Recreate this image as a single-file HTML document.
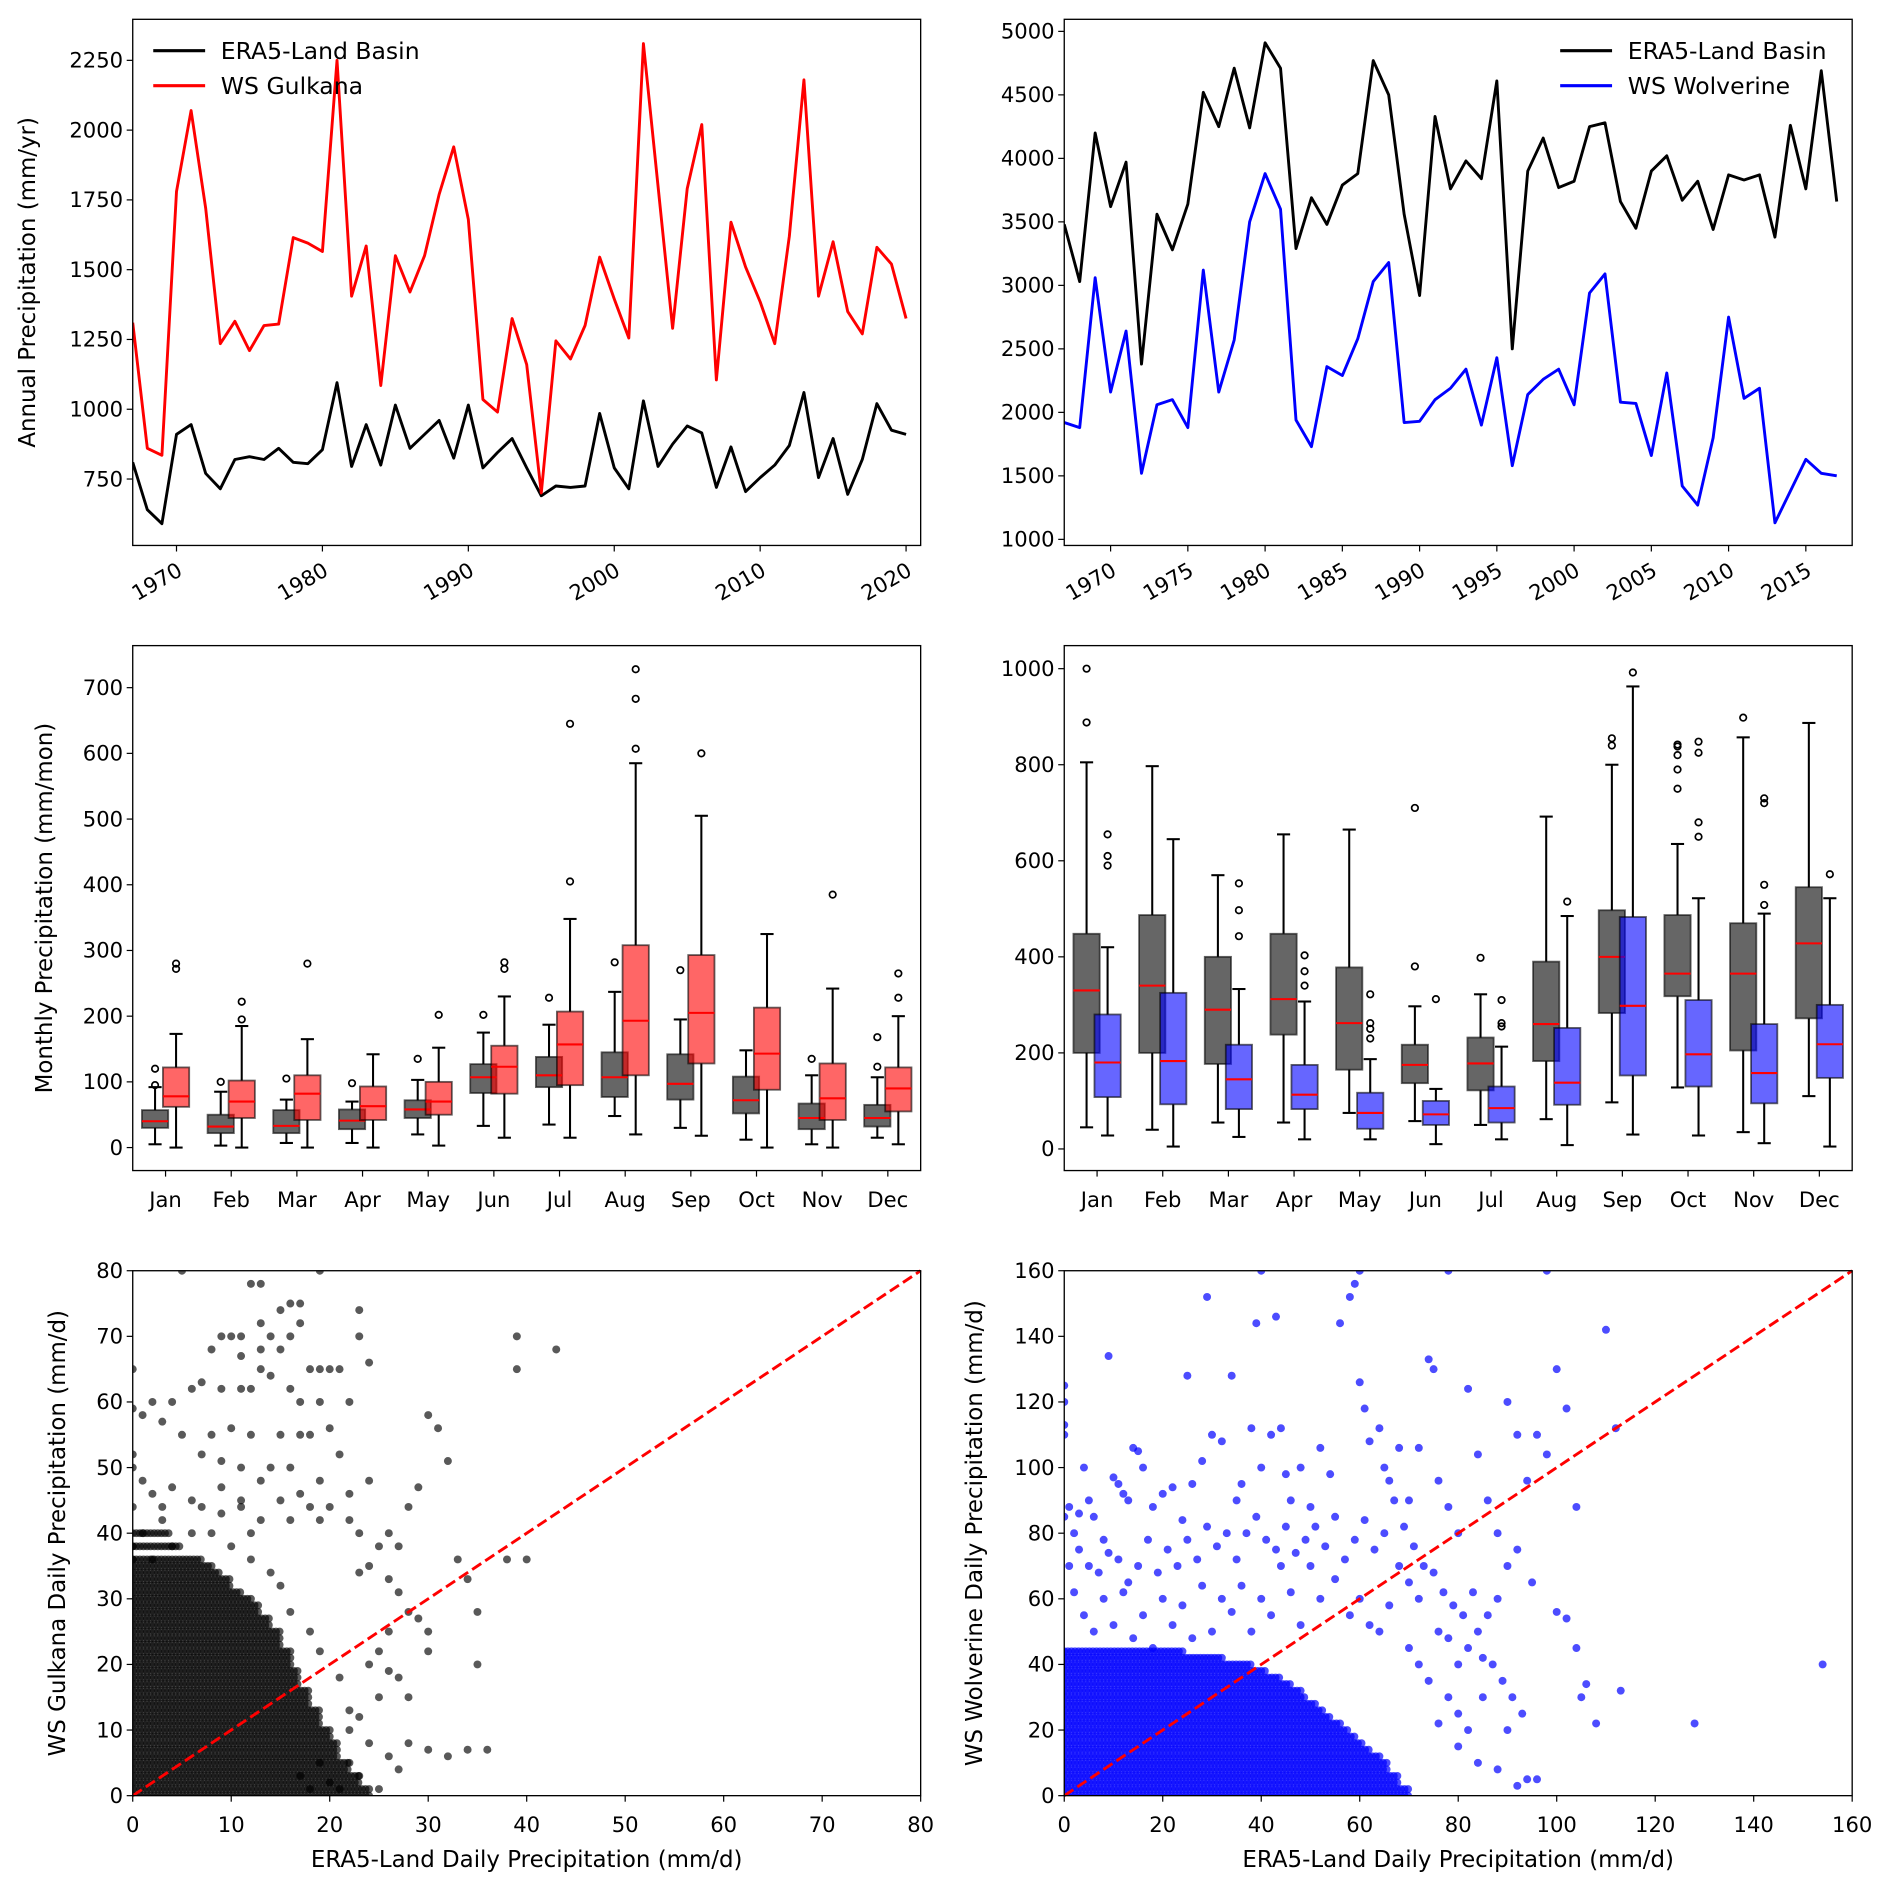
<!DOCTYPE html>
<html><head><meta charset="utf-8"><style>
html,body{margin:0;padding:0;background:#fff;}
svg{display:block;font-family:"DejaVu Sans","Liberation Sans",sans-serif;}
</style></head>
<body>
<svg id="fig" width="1892" height="1891" viewBox="0 0 1568 1567" preserveAspectRatio="none" xmlns="http://www.w3.org/2000/svg">
<rect x="0" y="0" width="1568" height="1567" fill="#fff"/>
</svg>
<script>
// ---------- DATA ----------
const gkYears = [1967,1968,1969,1970,1971,1972,1973,1974,1975,1976,1977,1978,1979,1980,1981,1982,1983,1984,1985,1986,1987,1988,1989,1990,1991,1992,1993,1994,1995,1996,1997,1998,1999,2000,2001,2002,2003,2004,2005,2006,2007,2008,2009,2010,2011,2012,2013,2014,2015,2016,2017,2018,2019,2020];
const gkWS = [1310,860,835,1780,2070,1720,1235,1315,1210,1300,1305,1615,1595,1565,2250,1405,1585,1085,1550,1420,1550,1770,1940,1680,1035,990,1325,1160,700,1245,1180,1300,1545,1395,1255,2310,1800,1290,1790,2020,1105,1670,1510,1385,1235,1620,2180,1405,1600,1350,1270,1580,1520,1325];
const gkERA = [810,640,590,910,945,770,715,820,830,820,860,810,805,855,1095,795,945,800,1015,860,910,960,825,1015,790,845,895,790,690,725,720,725,985,790,715,1030,795,875,940,915,720,865,705,755,800,870,1060,755,895,695,820,1020,925,910];
const wvYears = [1967,1968,1969,1970,1971,1972,1973,1974,1975,1976,1977,1978,1979,1980,1981,1982,1983,1984,1985,1986,1987,1988,1989,1990,1991,1992,1993,1994,1995,1996,1997,1998,1999,2000,2001,2002,2003,2004,2005,2006,2007,2008,2009,2010,2011,2012,2013,2014,2015,2016,2017];
const wvERA = [3480,3030,4200,3620,3970,2380,3560,3280,3640,4520,4250,4710,4240,4910,4710,3290,3690,3480,3790,3880,4770,4500,3560,2920,4330,3760,3980,3840,4610,2500,3900,4160,3770,3820,4250,4280,3660,3450,3900,4020,3670,3820,3440,3870,3830,3870,3380,4260,3760,4690,3660];
const wvWS = [1920,1880,3060,2160,2640,1520,2060,2100,1880,3120,2160,2570,3500,3880,3600,1940,1730,2360,2290,2580,3030,3180,1920,1930,2100,2190,2340,1900,2430,1580,2140,2260,2340,2060,2940,3090,2080,2070,1660,2310,1420,1270,1800,2750,2110,2190,1130,1380,1630,1520,1500];
const months = ['Jan','Feb','Mar','Apr','May','Jun','Jul','Aug','Sep','Oct','Nov','Dec'];
// box stats: [whislo, q1, med, q3, whishi]
const gkBoxERA = [[5,30,40,57,92],[3,22,32,50,85],[7,22,33,57,73],[7,28,41,58,70],[20,45,58,72,103],[33,83,107,127,175],[35,92,110,138,187],[48,77,107,145,237],[30,73,97,142,195],[12,52,72,108,148],[5,28,45,67,110],[15,32,45,65,107]];
const gkOutERA = [[95,120],[100],[105],[98],[135],[202],[228],[282],[270],[],[135],[123,168]];
const gkBoxWS = [[0,62,78,122,173],[0,45,70,102,185],[0,42,82,110,165],[0,42,63,93,142],[3,50,70,100,152],[15,82,123,155,230],[15,95,157,207,348],[20,110,193,308,585],[18,128,205,293,505],[0,88,143,213,325],[0,42,75,128,242],[5,55,90,122,200]];
const gkOutWS = [[272,280],[195,222],[280],[],[202],[272,282],[405,645],[607,683,728],[600],[],[385],[228,265]];
const wvBoxERA = [[45,200,330,448,805],[40,200,340,487,797],[55,177,290,400,570],[55,238,312,448,655],[75,165,262,378,665],[58,137,175,217,297],[50,122,178,232,322],[62,183,260,390,692],[97,283,400,497,800],[128,318,365,487,635],[35,205,365,470,857],[110,272,428,545,887]];
const wvOutERA = [[888,1000],[],[],[],[],[380,710],[398],[],[840,855],[750,790,820,838,842],[898],[]];
const wvBoxWS = [[28,108,180,280,420],[5,93,183,325,645],[25,83,145,217,333],[20,83,113,175,307],[20,42,75,117,187],[10,50,72,100,125],[20,55,85,130,213],[8,92,138,252,485],[30,153,298,483,963],[28,130,197,310,522],[12,95,158,260,490],[5,148,218,300,522]];
const wvOutWS = [[590,610,655],[],[443,497,553],[340,370,403],[230,250,262,322],[312],[255,262,310],[515],[992],[650,680,825,848],[508,550,720,730],[572]];
// scatter: dense core bands (y level, max ERA5 x of solid cloud)
const gkBandY = [0,1,2,3,4,5,6,7,8,9,10,11,12,13,14,15,16,17,18,19,20,21,22,23,24,25,26,27,28,29,30,31,32,33,34,35,36,38,40];
const gkBandX = [24,24,23,23,22,22,21,21,21,20,20,19,19,19,18,18,18,17,17,17,16,16,16,15,15,15,14,14,13,13,12,11,10,10,9,8,7,5,4];
const gkPtsX = [5,13,12,16,17,19,15,13,9,10,11,14,16,8,11,13,15,17,23,23,24,20,19,21,18,13,14,7,6,9,11,12,16,17,19,22,4,2,0,0,1,3,5,8,10,12,15,17,18,20,21,7,9,11,14,16,19,24,22,13,15,17,18,20,9,11,6,4,2,3,0,0,1,13,16,19,22,23,25,26,28,30,31,32,29,27,24,23,26,27,28,29,30,30,26,25,24,26,27,28,25,23,22,24,26,27,22,23,21,25,28,30,32,34,36,35,35,34,33,38,40,39,39,43,18,20,17,19,22,21,19,18,16,15,14,12,10,8,6,4,2,1,3,7,9,12,11,0,0,0];
const gkPtsY = [80,78,78,75,75,80,74,72,70,70,70,70,70,68,67,68,68,72,74,70,66,65,65,65,65,65,64,63,62,62,62,62,62,60,60,60,60,60,65,59,58,57,55,55,56,55,55,55,55,56,52,52,51,50,50,50,48,48,46,48,45,46,44,44,47,45,45,47,46,44,52,50,48,42,42,42,42,40,38,40,44,58,56,51,47,38,35,34,33,31,28,27,25,22,25,22,20,19,18,15,15,12,10,8,6,4,5,3,1,1,8,7,6,7,7,20,28,33,36,36,36,65,70,68,1,2,3,5,13,18,22,25,28,32,34,36,38,40,40,38,36,40,42,44,43,40,44,44,38,36];
const wvBandY = [0,2,4,6,8,10,12,14,16,18,20,22,24,26,28,30,32,34,36,38,40,42,44];
const wvBandX = [70,70,68,68,66,66,64,62,61,59,58,56,54,53,51,49,48,46,44,41,38,32,24];
const wvPtsX = [0,0,0,0,1,0,2,3,4,5,6,8,9,10,11,12,13,14,15,16,18,20,22,24,25,26,28,29,30,32,34,35,36,38,39,40,42,43,44,45,46,48,50,52,54,56,58,59,60,61,62,64,65,66,68,70,72,74,75,76,78,80,82,84,86,88,90,92,94,96,98,100,102,104,110,112,100,102,104,106,105,108,113,128,154,95,92,90,88,86,84,82,80,78,76,80,84,88,92,94,96,90,85,72,70,68,66,64,62,60,58,55,52,50,48,46,44,42,40,38,36,34,32,30,28,26,24,22,20,18,16,14,12,10,8,6,4,2,1,3,5,7,9,11,13,15,17,19,21,23,25,27,29,31,33,35,37,39,41,43,45,47,49,51,53,55,57,59,61,63,65,67,69,71,73,75,77,79,81,83,85,87,89,91,93,70,72,74,76,78,80,82,60,78,98,40];
const wvPtsY = [125,120,113,110,88,85,80,86,100,90,85,78,134,97,95,92,90,106,105,100,88,92,94,84,128,95,102,152,110,108,128,90,95,112,144,100,110,146,112,98,90,100,88,106,98,144,152,156,126,118,108,112,100,96,106,90,106,133,130,96,88,80,124,104,90,80,120,110,96,110,104,130,118,88,142,112,56,54,45,34,30,22,32,22,40,65,75,70,60,55,50,45,40,30,22,15,10,8,3,5,5,20,30,60,65,70,58,50,52,60,55,66,60,70,52,62,70,55,60,50,64,56,60,50,64,48,58,52,60,45,55,48,62,52,60,50,55,62,70,75,70,68,74,72,65,70,78,68,75,70,78,72,82,76,80,72,80,85,78,75,82,74,78,82,76,85,72,78,84,75,80,90,82,76,70,68,62,58,55,62,42,40,35,30,25,45,40,35,50,48,25,20,160,160,160,160];
const NS = 'http://www.w3.org/2000/svg';
const svg = document.getElementById('fig');
const TF = 17.5, LF = 19;
function mk(tag, attrs, parent){
  const e = document.createElementNS(NS, tag);
  for (const k in attrs) e.setAttribute(k, attrs[k]);
  (parent||svg).appendChild(e);
  return e;
}
function scale(d0,d1,r0,r1){return v => r0 + (v-d0)/(d1-d0)*(r1-r0);}
function axesFrame(x0,x1,y0,y1,name){
  const g = mk('g',{});
  
  
  return g;
}
function frame(g,x0,x1,y0,y1){
  const r = mk('rect',{x:x0,y:y0,width:x1-x0,height:y1-y0,fill:'none',stroke:'#000','stroke-width':1.1},g);
  
  
}
function yTicks(g,ys,vals,x0){
  vals.forEach(v=>{
    const y = ys(v);
    mk('line',{x1:x0-5,x2:x0,y1:y,y2:y,stroke:'#000','stroke-width':1},g);
    const t = mk('text',{x:x0-8,y:y+6,'text-anchor':'end','font-size':TF,fill:'#000'},g);
    
    
    t.textContent = v;
  });
}
function xTicks(g,xs,vals,labels,y1,rot){
  vals.forEach((v,i)=>{
    const x = xs(v);
    mk('line',{x1:x,x2:x,y1:y1,y2:y1+5,stroke:'#000','stroke-width':1},g);
    let t;
    if (rot){
      t = mk('text',{x:x+6,y:y1+24,'text-anchor':'end','font-size':TF,transform:`rotate(-30 ${x+6} ${y1+24})`},g);
    } else {
      t = mk('text',{x:x,y:y1+30,'text-anchor':'middle','font-size':TF},g);
    }
    
    
    t.textContent = labels[i];
  });
}
function yLabel(g,x,y,txt,name){
  const t = mk('text',{x:x,y:y,'text-anchor':'middle','font-size':LF,transform:`rotate(-90 ${x} ${y})`},g);
  
  
  t.textContent = txt;
}
function xLabel(g,x,y,txt,name){
  const t = mk('text',{x:x,y:y,'text-anchor':'middle','font-size':LF},g);
  
  
  t.textContent = txt;
}
function series(g,xs,ys,xv,yv,color,name,clipId){
  const d = xv.map((x,i)=>(i?'L':'M')+xs(x).toFixed(2)+','+ys(yv[i]).toFixed(2)).join(' ');
  const p = mk('path',{d:d,fill:'none',stroke:color,'stroke-width':2.4,'stroke-linejoin':'round','clip-path':`url(#${clipId})`},g);
  
  
}
function legend(g,x,y,items){
  items.forEach((it,i)=>{
    const yy = y + i*29;
    mk('line',{x1:x,x2:x+43,y1:yy,y2:yy,stroke:it[1],'stroke-width':2.6},g);
    const t = mk('text',{x:x+56,y:yy+7,'font-size':19.5},g);
    
    
    t.textContent = it[0];
  });
}
function clip(id,x0,x1,y0,y1){
  const defs = mk('defs',{});
  const cp = mk('clipPath',{id:id},defs);
  mk('rect',{x:x0,y:y0,width:x1-x0,height:y1-y0},cp);
}
// ---------- PANEL 1 ----------
(function(){
  const x0=110,x1=763,y0=16,y1=452;
  const xs=scale(1967,2021,x0,x1), ys=scale(512,2397,y1,y0);
  clip('c1',x0,x1,y0,y1);
  const g=axesFrame(x0,x1,y0,y1,'annual-gulkana-chart');
  series(g,xs,ys,gkYears,gkERA,'#000','era5-basin-line','c1');
  series(g,xs,ys,gkYears,gkWS,'#ff0000','ws-gulkana-line','c1');
  frame(g,x0,x1,y0,y1);
  yTicks(g,ys,[750,1000,1250,1500,1750,2000,2250],x0);
  xTicks(g,xs,[1970,1980,1990,2000,2010,2020],['1970','1980','1990','2000','2010','2020'],y1,true);
  yLabel(g,29,(y0+y1)/2,'Annual Precipitation (mm/yr)','y-axis-title');
  legend(g,127,42,[['ERA5-Land Basin','#000'],['WS Gulkana','#ff0000']]);
})();
// ---------- PANEL 2 ----------
(function(){
  const x0=882,x1=1535,y0=16,y1=452;
  const xs=scale(1967,2018,x0,x1), ys=scale(952,5095,y1,y0);
  clip('c2',x0,x1,y0,y1);
  const g=axesFrame(x0,x1,y0,y1,'annual-wolverine-chart');
  series(g,xs,ys,wvYears,wvERA,'#000','era5-basin-line','c2');
  series(g,xs,ys,wvYears,wvWS,'#0000ff','ws-wolverine-line','c2');
  frame(g,x0,x1,y0,y1);
  yTicks(g,ys,[1000,1500,2000,2500,3000,3500,4000,4500,5000],x0);
  xTicks(g,xs,[1970,1975,1980,1985,1990,1995,2000,2005,2010,2015],['1970','1975','1980','1985','1990','1995','2000','2005','2010','2015'],y1,true);
  legend(g,1293,42,[['ERA5-Land Basin','#000'],['WS Wolverine','#0000ff']]);
})();
// ---------- BOX PANELS ----------
function boxPanel(x0,x1,y0,y1,ymin,ymax,bA,oA,bB,oB,fillB,ticks,name,ylab){
  const xs=scale(0.5,12.5,x0,x1), ys=scale(ymin,ymax,y1,y0);
  const g=axesFrame(x0,x1,y0,y1,name);
  const w=0.4;
  function drawBox(i,s,outs,off,fill,bn){
    const c = xs(i+1+off), hw=(xs(w)-xs(0))/2, cw=hw*0.5;
    const bg = mk('g',{},g);
    
    
    mk('line',{x1:c,x2:c,y1:ys(s[0]),y2:ys(s[1]),stroke:'#000','stroke-width':1.7},bg);
    mk('line',{x1:c,x2:c,y1:ys(s[3]),y2:ys(s[4]),stroke:'#000','stroke-width':1.7},bg);
    mk('line',{x1:c-cw,x2:c+cw,y1:ys(s[0]),y2:ys(s[0]),stroke:'#000','stroke-width':1.7},bg);
    mk('line',{x1:c-cw,x2:c+cw,y1:ys(s[4]),y2:ys(s[4]),stroke:'#000','stroke-width':1.7},bg);
    mk('rect',{x:c-hw,y:ys(s[3]),width:2*hw,height:ys(s[1])-ys(s[3]),fill:fill,'fill-opacity':0.6,stroke:'#000','stroke-opacity':0.6,'stroke-width':1.5},bg);
    mk('line',{x1:c-hw,x2:c+hw,y1:ys(s[2]),y2:ys(s[2]),stroke:'#ff0000','stroke-width':1.7},bg);
    outs.forEach(o=>{
      const ci = mk('circle',{cx:c,cy:ys(o),r:2.7,fill:'none',stroke:'#000','stroke-width':1.4},bg);
      
      
    });
  }
  months.forEach((m,i)=>{
    drawBox(i,bA[i],oA[i],-0.16,'#000','box-era5-'+m.toLowerCase());
    drawBox(i,bB[i],oB[i],0.16,fillB,'box-ws-'+m.toLowerCase());
  });
  frame(g,x0,x1,y0,y1);
  yTicks(g,ys,ticks,x0);
  xTicks(g,xs,[1,2,3,4,5,6,7,8,9,10,11,12],months,y1,false);
  if (ylab) yLabel(g,43,(y0+y1)/2,ylab,'y-axis-title');
}
boxPanel(110,763,535,970,-35,764,gkBoxERA,gkOutERA,gkBoxWS,gkOutWS,'#ff0000',[0,100,200,300,400,500,600,700],'monthly-gulkana-boxplot','Monthly Precipitation (mm/mon)');
boxPanel(882,1535,535,970,-45,1048,wvBoxERA,wvOutERA,wvBoxWS,wvOutWS,'#0000ff',[0,200,400,600,800,1000],'monthly-wolverine-boxplot',null);
// ---------- SCATTER PANELS ----------
function scatterPanel(x0,x1,y0,y1,max,bandY,bandX,px,py,color,alpha,r,ticks,name,ylab,ylabX,clipId){
  const xs=scale(0,max,x0,x1), ys=scale(0,max,y1,y0);
  clip(clipId,x0,x1,y0,y1);
  const g=axesFrame(x0,x1,y0,y1,name);
  const pg = mk('g',{'clip-path':`url(#${clipId})`,fill:color,'fill-opacity':alpha},g);
  
  
  const step = max/220;
  bandY.forEach((yv,i)=>{
    for (let xv=0; xv<=bandX[i]; xv+=step){
      const c = mk('circle',{cx:xs(xv),cy:ys(yv),r:r},pg);
      
      
    }
  });
  px.forEach((xv,i)=>{
    const c = mk('circle',{cx:xs(xv),cy:ys(py[i]),r:r},pg);
    
    
  });
  const l = mk('line',{x1:xs(0),y1:ys(0),x2:xs(max),y2:ys(max),stroke:'#ff0000','stroke-width':2.4,'stroke-dasharray':'9,4'},g);
  
  
  frame(g,x0,x1,y0,y1);
  yTicks(g,ys,ticks,x0);
  xTicks(g,xs,ticks,ticks.map(String),y1,false);
  yLabel(g,ylabX,(y0+y1)/2,ylab,'y-axis-title');
  xLabel(g,(x0+x1)/2,1547,'ERA5-Land Daily Precipitation (mm/d)','x-axis-title');
}
scatterPanel(110,763,1053,1488,80,gkBandY,gkBandX,gkPtsX,gkPtsY,'#000',0.65,3.3,[0,10,20,30,40,50,60,70,80],'daily-gulkana-scatter','WS Gulkana Daily Precipitation (mm/d)',54,'c5');
scatterPanel(882,1535,1053,1488,160,wvBandY,wvBandX,wvPtsX,wvPtsY,'#0000ff',0.7,3.3,[0,20,40,60,80,100,120,140,160],'daily-wolverine-scatter','WS Wolverine Daily Precipitation (mm/d)',814,'c6');
</script>
</body></html>
